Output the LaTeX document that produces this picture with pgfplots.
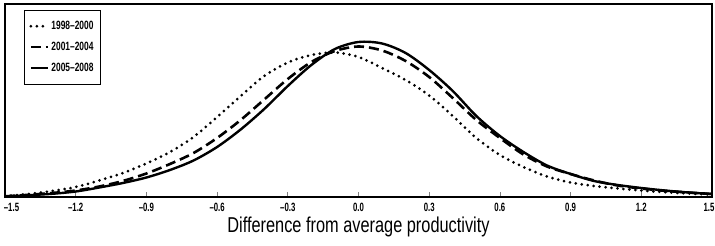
\documentclass[border=0pt]{standalone}
\usepackage{fontspec}
\setmainfont{Liberation Sans}
\newfontfamily\labfont{Liberation Sans}[FakeStretch=0.76]
\newfontfamily\tickfont{Liberation Sans}[FakeStretch=0.65]
\newfontfamily\legfont{Liberation Sans}[FakeStretch=0.7]
\usepackage{pgfplots}
\pgfplotsset{compat=1.18}
\begin{document}
\begin{tikzpicture}
\begin{axis}[
  scale only axis, width=707pt, height=193pt,
  xmin=-1.5, xmax=1.5, ymin=0, ymax=193,
  axis line style={line width=2pt},
  ytick=\empty,
  xtick={-1.5,-1.2,-0.9,-0.6,-0.3,0,0.3,0.6,0.9,1.2,1.5},
  xticklabels={{\raisebox{7pt}{\hspace{13pt}–1.5}},{\raisebox{7pt}{–1.2}},–0.9,–0.6,–0.3,0.0,0.3,0.6,0.9,{\raisebox{7pt}{1.2}},{\raisebox{7pt}{1.5\hspace{6pt}}}},
  xtick pos=lower, tick align=inside, major tick length=5pt,
  xtick style={line width=0.8pt},
  xticklabel style={font=\tickfont\bfseries\fontsize{12}{12}\selectfont, yshift=-3pt},
  xlabel={Difference from average productivity},
  xlabel style={font=\labfont\fontsize{21.5}{21.5}\selectfont, yshift=9pt},
  legend style={at={(0.02,0.969)}, anchor=north west, xshift=5pt, draw=black, line width=0.5pt,
    font=\legfont\bfseries\fontsize{12}{12}\selectfont, row sep=7pt, inner xsep=5pt, inner ysep=9pt},
  legend cell align=left,
]
\addplot[black, line width=3pt, line cap=round, dash pattern=on 0pt off 6pt, smooth] coordinates {
(-1.5,1) (-1.4,3) (-1.3,6) (-1.2,10) (-1.1,16.5) (-1.0,24) (-0.9,33.5) (-0.8,45) (-0.7,60) (-0.6,80) (-0.5,101) (-0.4,121) (-0.3,134.5) (-0.2,142) (-0.1,144.5) (0.0,140) (0.1,129) (0.2,117) (0.3,101.5) (0.4,81) (0.5,59) (0.6,42) (0.7,30) (0.8,20.5) (0.9,14.5) (1.0,11) (1.1,8.5) (1.2,6.5) (1.3,4.8) (1.4,3.5) (1.5,2.5)
};
\addlegendentry{1998–2000}
\addplot[black, line width=2.6pt, dash pattern=on 10pt off 5pt, smooth] coordinates {
(-1.5,0.7) (-1.4,2.2) (-1.3,4) (-1.2,6.5) (-1.1,10.5) (-1.0,16) (-0.9,23.5) (-0.8,33) (-0.7,44) (-0.6,59) (-0.5,77) (-0.4,97.5) (-0.3,118) (-0.2,135) (-0.1,146) (0.0,150.5) (0.1,146.5) (0.2,136) (0.3,120) (0.4,99) (0.5,77) (0.6,59) (0.7,42.5) (0.8,30.5) (0.9,23) (1.0,16.5) (1.1,11.5) (1.2,8.5) (1.3,6.2) (1.4,4.5) (1.5,3)
};
\addlegendentry{2001–2004}
\addplot[black, line width=2.4pt, smooth] coordinates {
(-1.5,0.5) (-1.4,1.8) (-1.3,3.2) (-1.2,5.5) (-1.1,9.5) (-1.0,14) (-0.9,19.5) (-0.8,27) (-0.7,36.5) (-0.6,50) (-0.5,67.5) (-0.4,88) (-0.3,111) (-0.2,132) (-0.1,148) (0.0,155) (0.1,153.5) (0.2,144) (0.3,127) (0.4,106) (0.5,81) (0.6,61) (0.7,45) (0.8,31.5) (0.9,23) (1.0,16) (1.1,12) (1.2,9) (1.3,6.5) (1.4,4.5) (1.5,3)
};
\addlegendentry{2005–2008}
\end{axis}
\pgfresetboundingbox
\path[use as bounding box] (current axis.south west) ++(-5pt,-49pt) rectangle ([shift={(3pt,4pt)}]current axis.north east);
\end{tikzpicture}
\end{document}
